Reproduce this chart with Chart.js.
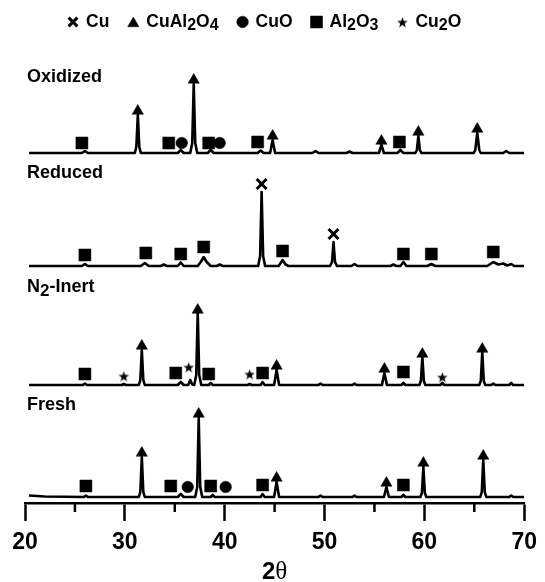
<!DOCTYPE html>
<html>
<head>
<meta charset="utf-8">
<script src="https://cdn.jsdelivr.net/npm/chart.js@4.4.1/dist/chart.umd.min.js"></script>
<style>
  html, body { margin: 0; padding: 0; background: #fff; }
</style>
</head>
<body>
<canvas id="graficoXRD" width="545" height="582"></canvas>
<script>
// Muestras (de arriba a abajo); '_' marca subíndice
const muestras = ['Oxidized', 'Reduced', 'N_2-Inert', 'Fresh'];
const desplazamientos = [350, 237, 118, 6];
const ticksX = [20, 30, 40, 50, 60, 70];

// Patrones: [2θ, intensidad sobre la línea base]
const oxidized = [
  [20.4,0],[25.7,0],[26.0,2],[26.3,0],
  [31.0,0],[31.15,6],[31.3,38],[31.45,6],[31.6,0],
  [35.3,0],[35.6,3],[35.9,0],
  [36.55,0],[36.75,10],[36.9,69],[37.05,10],[37.25,0],
  [38.3,0],[38.6,3],[38.9,0],
  [43.3,0],[43.6,2.5],[43.9,0],
  [44.55,0],[44.8,13],[45.05,0],
  [48.8,0],[49.1,2],[49.4,0],
  [52.2,0],[52.5,1.5],[52.8,0],
  [55.45,0],[55.7,8],[55.95,0],
  [57.3,0],[57.6,3],[57.9,0],
  [59.1,0],[59.25,3],[59.4,17],[59.55,3],[59.7,0],
  [64.95,0],[65.1,3],[65.3,20],[65.5,3],[65.65,0],
  [67.9,0],[68.2,2],[68.5,0],[70,0]
];
const reduced = [
  [20.4,0],[25.7,0],[26.0,2],[26.3,0],
  [31.6,0],[32.0,3],[32.4,0],
  [33.6,0],[33.9,1.5],[34.2,0],
  [35.3,0],[35.6,3.5],[35.9,0],
  [37.3,0],[37.6,4],[37.9,9],[38.2,4],[38.6,0],
  [39.2,0],[39.5,1.5],[39.8,0],
  [43.35,0],[43.55,10],[43.7,74],[43.85,10],[44.05,0],
  [45.4,0],[45.8,6],[46.1,1.5],[46.4,0],
  [50.55,0],[50.75,4],[50.9,24],[51.05,4],[51.25,0],
  [52.7,0],[53.0,2],[53.3,0],
  [56.6,0],[56.9,1.5],[57.2,0],
  [57.6,0],[57.9,4],[58.2,0],
  [60.3,0],[60.7,2],[61.1,0],
  [66.3,0],[66.9,4],[67.4,1.5],[67.9,2.5],[68.3,0.5],[68.7,2],[69.0,0],[70,0]
];
const n2Inert = [
  [20.4,0],[25.8,0],[26.0,1.5],[26.2,0],
  [29.7,0],[29.9,1],[30.1,0],
  [31.4,0],[31.55,5],[31.7,35],[31.85,5],[32.0,0],
  [35.3,0],[35.6,3],[35.9,0],
  [36.35,0],[36.55,5],[36.75,0.5],
  [36.95,0],[37.15,10],[37.3,72],[37.45,10],[37.65,0],
  [38.4,0],[38.6,2],[38.8,0],
  [42.3,0],[42.5,1],[42.7,0],
  [43.6,0],[43.8,3],[44.0,0],
  [44.95,0],[45.2,15],[45.45,0],
  [49.4,0],[49.6,1.5],[49.8,0],
  [52.8,0],[53.0,1.5],[53.2,0],
  [55.75,0],[56.0,12],[56.25,0],
  [57.7,0],[57.9,2],[58.1,0],
  [59.5,0],[59.65,4],[59.8,28],[59.95,4],[60.1,0],
  [61.6,0],[61.8,2],[62.0,0],
  [65.5,0],[65.65,4],[65.8,33],[65.95,4],[66.1,0],
  [66.7,0],[66.9,1.5],[67.1,0],
  [68.5,0],[68.7,2],[68.9,0],[70,0]
];
const fresh = [
  [20.4,1.5],[22.0,0.5],[25.9,0],[26.1,1.5],[26.3,0],
  [31.4,0],[31.55,5],[31.7,40],[31.85,5],[32.0,0],
  [35.3,0],[35.6,3],[35.9,0],
  [37.05,0],[37.25,10],[37.4,79],[37.55,10],[37.75,0],
  [38.6,0],[38.8,2],[39.0,0],
  [43.6,0],[43.8,3],[44.0,0],
  [44.95,0],[45.2,15],[45.45,0],
  [49.4,0],[49.6,1.5],[49.8,0],
  [52.8,0],[53.0,1.5],[53.2,0],
  [55.95,0],[56.2,10],[56.45,0],
  [57.7,0],[57.9,2],[58.1,0],
  [59.6,0],[59.75,4],[59.9,30],[60.05,4],[60.2,0],
  [65.6,0],[65.75,5],[65.9,37],[66.05,5],[66.2,0],
  [68.5,0],[68.7,1.5],[68.9,0],[70,0]
];
const patrones = [oxidized, reduced, n2Inert, fresh];

// Marcas de fase: [muestra, 2θ, altura sobre la línea base]
const fases = ['Cu', 'CuAl_2O_4', 'CuO', 'Al_2O_3', 'Cu_2O'];
const marcasCu = [[1,43.7,82],[1,50.9,32]];
const marcasCuAl2O4 = [
  [0,31.3,42],[0,36.9,73],[0,44.8,17],[0,55.7,12],[0,59.4,21],[0,65.3,24],
  [2,31.7,39],[2,37.3,75],[2,45.2,19],[2,56.0,16],[2,59.8,31],[2,65.8,36],
  [3,31.7,44],[3,37.4,83],[3,45.2,19],[3,56.2,14],[3,59.9,34],[3,65.9,41]
];
const marcasCuO = [[0,35.7,10],[0,39.5,10],[3,36.3,10],[3,40.1,10]];
const marcasAl2O3 = [
  [0,25.7,10],[0,34.4,10],[0,38.4,10],[0,43.3,11],[0,57.5,11],
  [1,26.0,11],[1,32.1,13],[1,35.6,12],[1,37.9,19],[1,45.8,15],[1,57.9,12],[1,60.7,12],[1,66.9,14],
  [2,26.0,11],[2,35.1,12],[2,38.4,11],[2,43.8,12],[2,57.9,13],
  [3,26.1,11],[3,34.6,11],[3,38.6,11],[3,43.8,12],[3,57.9,12]
];
const marcasCu2O = [[2,29.9,9],[2,36.4,18],[2,42.5,11],[2,61.8,8]];
const marcas = [marcasCu, marcasCuAl2O4, marcasCuO, marcasAl2O3, marcasCu2O];

const FUENTE = '"Liberation Sans", Arial, sans-serif';

// Estrella rellena de cinco puntas (Chart.js solo trae la de trazos)
function crearEstrella(tam) {
  const c = document.createElement('canvas');
  c.width = c.height = tam;
  const g = c.getContext('2d');
  const r = tam / 2, ri = r * 0.42;
  g.beginPath();
  for (let i = 0; i < 10; i++) {
    const a = -Math.PI / 2 + i * Math.PI / 5;
    const rr = i % 2 ? ri : r;
    g.lineTo(r + rr * Math.cos(a), r + 0.8 + rr * Math.sin(a));
  }
  g.closePath();
  g.fillStyle = '#000';
  g.fill();
  return c;
}

const estilos = [
  { pointStyle: 'crossRot', radius: 7, borderWidth: 3 },
  { pointStyle: 'triangle', radius: 6.5, borderWidth: 0.5 },
  { pointStyle: 'circle', radius: 5.8, borderWidth: 0.5 },
  { pointStyle: 'rect', radius: 8.5, borderWidth: 0.5 },
  { pointStyle: crearEstrella(11), radius: 5, borderWidth: 0 }
];

// Texto con subíndices
function textoRico(ctx, texto, x, y, tam) {
  let cx = x;
  for (let i = 0; i < texto.length; i++) {
    let ch = texto[i], sub = false;
    if (ch === '_') { sub = true; ch = texto[++i]; }
    ctx.font = 'bold ' + (sub ? Math.round(tam * 0.92) : tam) + 'px ' + FUENTE;
    ctx.fillText(ch, cx, y + (sub ? 4 : 0));
    cx += ctx.measureText(ch).width;
  }
  return cx - x;
}

const datasets = [];
patrones.forEach((p, i) => {
  datasets.push({
    label: muestras[i],
    data: p.map(d => ({ x: d[0], y: d[1] + desplazamientos[i] })),
    showLine: true,
    borderColor: '#000',
    borderWidth: 2.6,
    borderJoinStyle: 'round',
    pointRadius: 0,
    tension: 0,
    order: 2
  });
});
marcas.forEach((lista, k) => {
  datasets.push({
    label: fases[k],
    data: lista.map(m => ({ x: m[1], y: m[2] + desplazamientos[m[0]] })),
    showLine: false,
    pointStyle: estilos[k].pointStyle,
    pointRadius: estilos[k].radius,
    pointBorderWidth: estilos[k].borderWidth,
    pointBackgroundColor: '#000',
    pointBorderColor: '#000',
    clip: false,
    order: 1
  });
});

const extras = {
  id: 'extras',
  afterDraw(chart) {
    const ctx = chart.ctx;
    const xs = chart.scales.x;
    const abajo = chart.chartArea.bottom;
    ctx.save();
    ctx.fillStyle = '#000';
    ctx.strokeStyle = '#000';

    // ticks menores
    ctx.lineWidth = 2.5;
    [25, 35, 45, 55, 65].forEach(v => {
      const px = xs.getPixelForValue(v);
      ctx.beginPath();
      ctx.moveTo(px, abajo);
      ctx.lineTo(px, abajo + 9);
      ctx.stroke();
    });

    // nombres de las muestras
    ctx.textBaseline = 'middle';
    ctx.textAlign = 'left';
    const yNombres = [77, 173, 287, 405];
    muestras.forEach((m, i) => textoRico(ctx, m, 27, yNombres[i], 18));

    // leyenda
    let x = 67;
    fases.forEach((f, k) => {
      const e = estilos[k];
      const cx = x + 6;
      ctx.lineWidth = e.borderWidth;
      Chart.helpers.drawPoint(ctx, {
        pointStyle: e.pointStyle, radius: k === 0 ? 6.2 : e.radius, rotation: 0, borderWidth: e.borderWidth
      }, cx, k === 1 ? 23.5 : 22);
      const w = textoRico(ctx, f, cx + 13, 22, 17.5);
      x = cx + 13 + w + 18;
    });

    // título del eje: 2θ
    ctx.textBaseline = 'middle';
    ctx.font = 'bold 24px ' + FUENTE;
    const w2 = ctx.measureText('2').width;
    ctx.font = '25px "Liberation Serif", "Times New Roman", serif';
    const wt = ctx.measureText('\u03b8').width;
    const x0 = (chart.chartArea.left + chart.chartArea.right) / 2 - (w2 + wt) / 2;
    ctx.font = 'bold 24px ' + FUENTE;
    ctx.fillText('2', x0, 572);
    ctx.font = '25px "Liberation Serif", "Times New Roman", serif';
    ctx.fillText('\u03b8', x0 + w2, 572);
    ctx.restore();
  }
};

const ctx = document.getElementById('graficoXRD').getContext('2d');
const graficoXRD = new Chart(ctx, {
  type: 'scatter',
  data: { datasets: datasets },
  options: {
    responsive: false,
    animation: false,
    layout: { padding: { top: 60, left: 25, right: 16, bottom: 0 } },
    plugins: {
      legend: { display: false },
      tooltip: { enabled: false }
    },
    scales: {
      x: {
        type: 'linear',
        min: 20,
        max: 70,
        afterBuildTicks: s => { s.ticks = ticksX.map(v => ({ value: v })); },
        afterFit: s => { s.height = 79; },
        border: { display: true, color: '#000', width: 2.5 },
        grid: {
          drawOnChartArea: false,
          drawTicks: true,
          tickLength: 18,
          tickWidth: 2.5,
          tickColor: '#000'
        },
        ticks: {
          color: '#000',
          padding: 8,
          maxRotation: 0,
          font: { family: FUENTE, size: 23, weight: 'bold' }
        }
      },
      y: { display: false, min: 0, max: 443 }
    }
  },
  plugins: [extras]
});
</script>
</body>
</html>
